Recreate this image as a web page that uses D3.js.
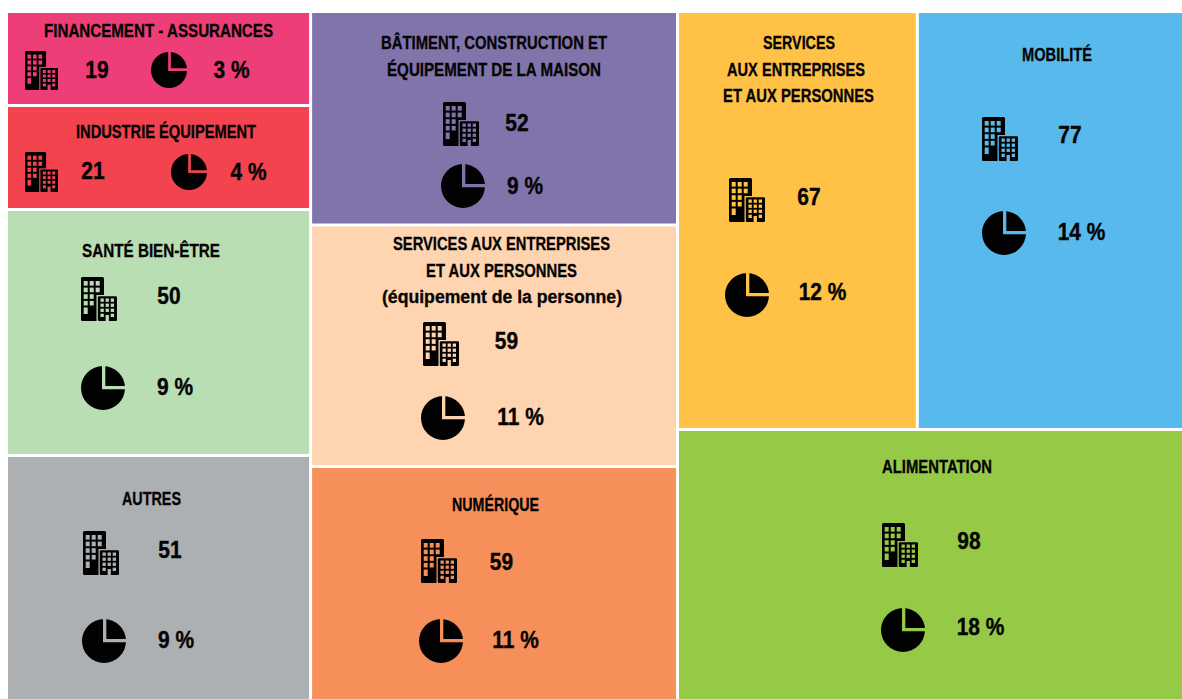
<!DOCTYPE html>
<html><head><meta charset="utf-8">
<script src="https://cdnjs.cloudflare.com/ajax/libs/d3/7.8.5/d3.min.js"></script>
<style>html,body{margin:0;padding:0;background:#fff}svg{display:block}
.t{font-family:"Liberation Sans Narrow","Liberation Sans",Arial,sans-serif;font-weight:700;fill:#050404;stroke:#050404;stroke-width:.3px;text-anchor:middle}
.n{font-family:"Liberation Sans",Arial,sans-serif;font-weight:700;fill:#050404;stroke:#050404;stroke-width:.4px;text-anchor:middle;font-size:23.5px}</style>
</head><body><script>
// Data
const sectors = ["Financement","Industrie","Santé","Autres","Bâtiment","ServPers","Numérique","Services","Mobilité","Alimentation"];
const counts  = [19,21,50,51,52,59,59,67,77,98];
const shares  = ["3 %","4 %","9 %","9 %","9 %","11 %","11 %","12 %","14 %","18 %"];
// Tile surface, as measured on the picture (close to the counts)
const surfaces = [19.85,21.96,51.95,51.74,54.4,61.53,59.62,69.6,77.27,95.23];
const titles = [
 ["FINANCEMENT - ASSURANCES"],["INDUSTRIE ÉQUIPEMENT"],["SANTÉ BIEN-ÊTRE"],["AUTRES"],
 ["BÂTIMENT, CONSTRUCTION ET","ÉQUIPEMENT DE LA MAISON"],
 ["SERVICES AUX ENTREPRISES","ET AUX PERSONNES","(équipement de la personne)"],
 ["NUMÉRIQUE"],["SERVICES","AUX ENTREPRISES","ET AUX PERSONNES"],["MOBILITÉ"],["ALIMENTATION"]];
const colors = ["#ee3e78","#f2434f","#b9deb3","#adb0b3","#8074ab","#ffd4b0","#f78f5a","#ffc247","#58baec","#96c945"];
// Annotation layout
const titleLines = [
 [[158.5,37,229]],[[166,138,180]],[[151,257,138]],[[151.5,505,59]],
 [[494,49,226],[494,76,214]],
 [[501.5,250,217],[501.5,277,151],[502,303,240]],
 [[495.5,511,87]],[[799,49,72],[796,76,138],[798.5,102,151]],[[1057,61,70]],[[937,473,110]]];
const buildingBox = [[25,51,33,39],[25,152,33,40],[81,277,36,44],[83,531,36,44],[443,102,36,44],[423,322,36,44],[421,539,36,44],[729,178,36,44],[982,117,36,44],[882,523,36,44]];
const pieBox = [[169,70,18],[189,172,18],[103,388,22],[104,641,22],[463,186,22],[443,418,22],[441,641,22],[747,295,22],[1004,233,22],[903,630,22]];
const countPos = [[97,78],[93,179],[169,304],[170,558],[517,131],[506.5,349],[501.5,570],[809,205],[1070,143],[969,549]];
const sharePos = [[231.5,78],[248.5,180],[175,395],[176,648],[525,194],[520.5,425],[515.5,648],[822.5,300],[1081.5,240],[980.5,635]];
const pieParts = [25,75];
// Icon window grids: [column, row] of the tower and the front block
const towerWindows = [[0,0],[1,0],[2,0],[0,1],[1,1],[2,1],[0,2],[1,2],[0,3],[1,3],[0,4]];
const blockWindows = [[0,0],[1,0],[2,0],[0,1],[1,1],[2,1],[0,2],[1,2],[2,2],[0,3],[2,3]];

const W=1182,H=699;
const svg=d3.select("body").append("svg").attr("width",W).attr("height",H);
const leaf=i=>({i,value:surfaces[i]});
const tree={children:[
 {children:[0,1,2,3].map(leaf)},
 {children:[4,5,6].map(leaf)},
 {children:[{children:[7,8].map(leaf)},leaf(9)]}]};
const root=d3.hierarchy(tree).sum(d=>d.value||0);
d3.treemap().tile(d3.treemapSliceDice).size([1174,686]).paddingInner(3).round(false)(root);
const g=svg.append("g").attr("transform","translate(8,13)");
g.selectAll("rect").data(root.leaves()).join("rect")
 .attr("x",d=>d.x0).attr("y",d=>d.y0).attr("width",d=>d.x1-d.x0).attr("height",d=>d.y1-d.y0)
 .attr("fill",d=>colors[d.data.i]);

const pie=d3.pie().sort(null).value(d=>d);
const twx=d3.scaleLinear().domain([0,2]).range([2.7,14.7]);
const twy=d3.scaleLinear().domain([0,4]).range([4,30.5]);
const bwx=d3.scaleLinear().domain([0,2]).range([19.5,29.7]);
const bwy=d3.scaleLinear().domain([0,3]).range([21.5,36.7]);
sectors.forEach((s,i)=>{
 const c=colors[i], ink="#030202";
 titles[i].forEach((line,k)=>{
  const [x,y,w]=titleLines[i][k];
  svg.append("text").attr("class","t").attr("x",x).attr("y",y).attr("font-size",17.5)
    .attr("textLength",w).attr("lengthAdjust","spacingAndGlyphs").text(line);
 });
 [[countPos[i],counts[i]],[sharePos[i],shares[i]]].forEach(([p,v])=>{
  const t=svg.append("text").attr("class","n").attr("x",p[0]).attr("y",p[1]).text(v);
  t.attr("textLength",t.node().getComputedTextLength()*0.89).attr("lengthAdjust","spacingAndGlyphs");
 });
 // pie icon
 const [px,py,r]=pieBox[i];
 const pg=svg.append("g").attr("transform",`translate(${px},${py})`);
 const a=d3.arc().innerRadius(0).outerRadius(r);
 pg.selectAll("path.s").data(pie(pieParts)).join("path").attr("class","s").attr("d",a).attr("fill",ink);
 pg.append("path").attr("d",d3.line()([[r*0.03,-r-1],[r*0.03,-r*0.02],[r+1,-r*0.02]])).attr("fill","none").attr("stroke",c).attr("stroke-width",r*0.15);
 // building icon
 const [bx,by,bw,bh]=buildingBox[i];
 const b=svg.append("g").attr("transform",`translate(${bx},${by}) scale(${bw/36},${bh/44})`);
 b.append("rect").attr("width",23).attr("height",44).attr("rx",1.5).attr("fill",ink);
 towerWindows.forEach(([cx,ry])=>{
  b.append("rect").attr("x",twx(cx)).attr("y",twy(ry)).attr("width",4).attr("height",ry==4?6.5:4.6).attr("fill",c);
 });
 b.append("rect").attr("x",15.5).attr("y",18).attr("width",20.5).attr("height",26).attr("fill",c);
 b.append("rect").attr("x",16.8).attr("y",19.2).attr("width",19.2).attr("height",24.8).attr("rx",1.2).attr("fill",ink);
 blockWindows.forEach(([cx,ry])=>{
  b.append("rect").attr("x",bwx(cx)).attr("y",bwy(ry)).attr("width",3.3).attr("height",3.3).attr("fill",c);
 });
 b.append("rect").attr("x",bwx(1)).attr("y",38).attr("width",3.3).attr("height",6).attr("fill",c);
});
</script></body></html>
